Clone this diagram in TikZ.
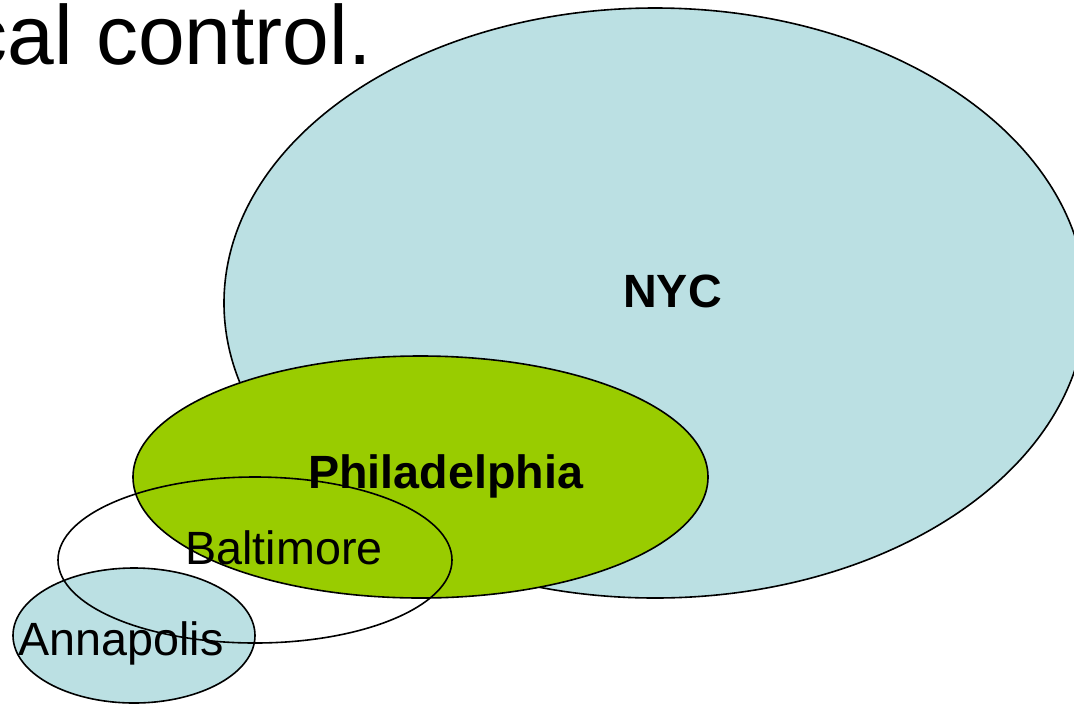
\documentclass[tikz,border=0pt]{standalone}
\usepackage{fontspec}
\setmainfont{Liberation Sans}
\usetikzlibrary{shapes.geometric}
\definecolor{cityblue}{RGB}{187,224,227}
\definecolor{citygreen}{RGB}{153,204,0}
\tikzstyle{city} = [ellipse, draw=black, line width=1.2pt, inner sep=0pt, outer sep=0pt]
\begin{document}
\begin{tikzpicture}[
            x=0.75pt, y=-0.75pt,
            every node/.style={text centered},
            label/.style={anchor=base, font=\fontsize{35pt}{42pt}\selectfont, inner sep=0pt},
            boldlabel/.style={label, font=\fontsize{35pt}{42pt}\selectfont\bfseries}
        ]
            \useasboundingbox (0,0) rectangle (1074,704);
            \clip (0,0) rectangle (1074,704);
            % Title
            \node (title) [anchor=base east, inner sep=0pt, font=\fontsize{63pt}{70pt}\selectfont] at (372,64) {cal control.};

            % Ellipses (sizes in pt = 0.75 x pixels)
            \node (nyc) [city, fill=cityblue, minimum width=646.5pt, minimum height=442.5pt] at (655,303) {};
            \node (phila) [city, fill=citygreen, minimum width=431.25pt, minimum height=181.5pt] at (420.5,477) {};
            \node (anna) [city, fill=cityblue, minimum width=181.5pt, minimum height=101.25pt] at (134,635.5) {};
            \node (annatext) [label] at (121,655) {Annapolis};
            \node (balt) [city, minimum width=295.5pt, minimum height=124.5pt] at (255,560) {};

            % Labels
            \node (balttext) [label] at (284,564) {Baltimore};
            \node (philatext) [boldlabel] at (445.5,488) {Philadelphia};
            \node (nyctext) [boldlabel] at (672.5,307) {NYC};
        \end{tikzpicture}
\end{document}
